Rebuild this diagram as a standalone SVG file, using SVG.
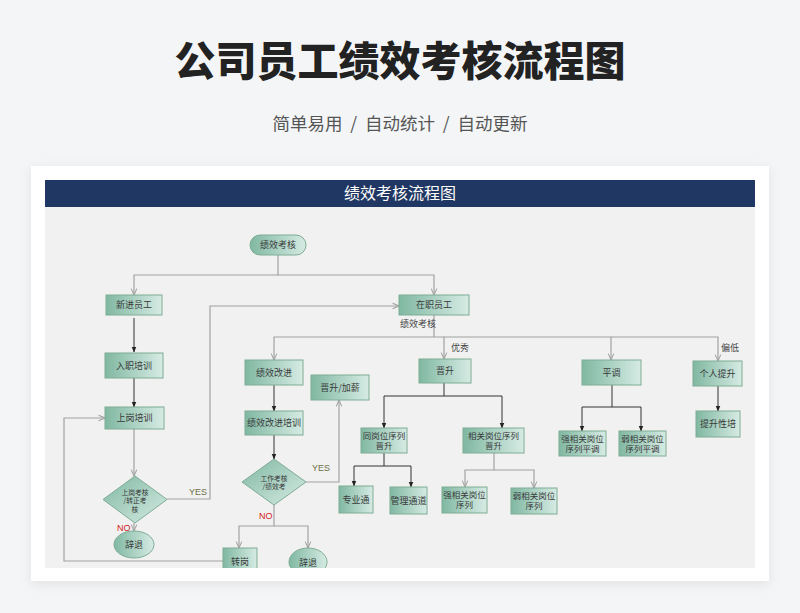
<svg xmlns="http://www.w3.org/2000/svg" width="800" height="613" viewBox="0 0 800 613">
<style>
.n{stroke:#7eac94;stroke-width:1;fill:url(#g)}
.d{stroke:#7eac94;stroke-width:1;fill:url(#gd)}
.t{font-family:"Noto Sans CJK SC","Noto Sans",sans-serif;font-size:9px;fill:#3a3a3a;text-anchor:middle}
.t2{font-family:"Noto Sans CJK SC","Noto Sans",sans-serif;font-size:8.5px;fill:#3a3a3a;text-anchor:middle}
.ts{font-family:"Noto Sans CJK SC","Noto Sans",sans-serif;font-size:6.8px;fill:#3a3a3a;text-anchor:middle}
.lb{font-family:"Noto Sans CJK SC","Noto Sans",sans-serif;font-size:9px;fill:#444}
.yes{font-family:"Liberation Sans","Noto Sans",sans-serif;font-size:9px;fill:#6f6f45}
.no{font-family:"Liberation Sans","Noto Sans",sans-serif;font-size:9px;fill:#d42020}
.cg{fill:none;stroke:#a2a2a2;stroke-width:1.2;marker-end:url(#ag)}
.cb{fill:none;stroke:#333;stroke-width:1;marker-end:url(#ab)}
.cl{fill:none;stroke:#a2a2a2;stroke-width:1.2}
</style>
<defs>
<linearGradient id="g" x1="0" y1="0" x2="1" y2="0">
<stop offset="0" stop-color="#80b8a2"/>
<stop offset="1" stop-color="#d6ebe4"/>
</linearGradient>
<linearGradient id="gd" x1="0" y1="0" x2="1" y2="1">
<stop offset="0" stop-color="#80b8a2"/>
<stop offset="1" stop-color="#d6ebe4"/>
</linearGradient>
<marker id="ag" viewBox="0 0 10 10" refX="9" refY="5" markerWidth="8" markerHeight="8" orient="auto" markerUnits="userSpaceOnUse">
<path d="M1,1.5 L9,5 L1,8.5" fill="none" stroke="#a2a2a2" stroke-width="1.3"/>
</marker>
<marker id="ab" viewBox="0 0 10 10" refX="9" refY="5" markerWidth="6" markerHeight="6" orient="auto" markerUnits="userSpaceOnUse">
<path d="M0,1 L10,5 L0,9 z" fill="#222"/>
</marker>
<filter id="sh" x="-10%" y="-10%" width="120%" height="125%">
<feDropShadow dx="0" dy="3" stdDeviation="6" flood-color="#000" flood-opacity="0.08"/>
</filter>
<clipPath id="clip"><rect x="45" y="207" width="710" height="361"/></clipPath>
</defs>

<rect x="0" y="0" width="800" height="613" fill="#f4f5f7"/>
<text x="400" y="76" text-anchor="middle" font-family="'Noto Sans CJK SC','Noto Sans',sans-serif" font-size="41" font-weight="900" fill="#222">公司员工绩效考核流程图</text>
<text x="400" y="130" text-anchor="middle" font-family="'Noto Sans CJK SC','Noto Sans',sans-serif" font-size="17.5" fill="#555" xml:space="preserve">简单易用  /  自动统计  /  自动更新</text>

<rect x="31" y="166" width="738" height="415" fill="#fff" filter="url(#sh)"/>
<rect x="45" y="207" width="710" height="361" fill="#f1f1f1"/>
<rect x="45" y="180" width="710" height="27" fill="#1f3762"/>
<text x="400" y="199" text-anchor="middle" font-family="'Noto Sans CJK SC','Noto Sans',sans-serif" font-size="16" fill="#fff">绩效考核流程图</text>

<g clip-path="url(#clip)">
<g id="connectors">
<path class="cg" d="M278,255 V275 H134 V295"/>
<path class="cg" d="M278,275 H434 V295"/>
<path class="cb" d="M134,318 V352"/>
<path class="cb" d="M134,378 V407"/>
<path class="cg" d="M134,429 V476"/>
<path class="cg" d="M134,523 V531"/>
<path class="cg" d="M167,499 H210 V306 H399"/>
<path class="cg" d="M223,561 H64 V418 H105"/>
<path class="cl" d="M434,315 V337"/>
<path class="cg" d="M434,337 H274 V360"/>
<path class="cg" d="M434,337 H444 V359"/>
<path class="cg" d="M444,337 H611 V360"/>
<path class="cg" d="M611,337 H718 V361"/>
<path class="cb" d="M274,385 V411"/>
<path class="cb" d="M274,435 V459"/>
<path class="cg" d="M306,482 H339 V400"/>
<path class="cg" d="M274,505 V526 H239 V548"/>
<path class="cg" d="M274,526 H308 V548"/>
<path class="cb" d="M444,383 V396 H384 V428"/>
<path class="cb" d="M444,396 H502 V428"/>
<path class="cb" d="M384,453 V466 H354 V486"/>
<path class="cb" d="M384,466 H411 V487"/>
<path class="cg" d="M494,453 V470 H465 V487"/>
<path class="cg" d="M494,470 H534 V488"/>
<path class="cb" d="M612,385 V407 H582 V431"/>
<path class="cb" d="M612,407 H641 V431"/>
<path class="cb" d="M718,386 V411"/>
</g>

<text class="lb" x="418" y="327" text-anchor="middle">绩效考核</text>
<text class="lb" x="451" y="351">优秀</text>
<text class="lb" x="721" y="351">偏低</text>
<text class="yes" x="189" y="495">YES</text>
<text class="yes" x="312" y="471">YES</text>
<text class="no" x="117" y="531">NO</text>
<text class="no" x="259" y="519">NO</text>

<g id="n-start"><rect class="n" x="250" y="235" width="56" height="20" rx="10"/><text class="t" x="278" y="248">绩效考核</text></g>
<g id="n-new"><rect class="n" x="106" y="295" width="56" height="20"/><text class="t" x="134" y="308">新进员工</text></g>
<g id="n-induct"><rect class="n" x="105" y="353" width="58" height="25"/><text class="t" x="134" y="368.5">入职培训</text></g>
<g id="n-post"><rect class="n" x="105" y="407" width="59" height="22"/><text class="t" x="134.5" y="421">上岗培训</text></g>
<g id="n-dec1"><polygon class="d" points="135,476 167,499.5 135,523 103,499.5"/><text class="ts" x="135" y="494.5">上岗考核</text><text class="ts" x="135" y="503">/转正考</text><text class="ts" x="135" y="511.5">核</text></g>
<g id="n-quit1"><ellipse class="n" cx="134" cy="544.5" rx="20" ry="13.5"/><text class="t" x="134" y="548">辞退</text></g>
<g id="n-staff"><rect class="n" x="399" y="295" width="70" height="20"/><text class="t" x="434" y="308">在职员工</text></g>
<g id="n-improve"><rect class="n" x="245" y="360" width="58" height="25"/><text class="t" x="274" y="375.5">绩效改进</text></g>
<g id="n-raise"><rect class="n" x="311" y="375" width="58" height="25"/><text class="t" x="340" y="390.5">晋升/加薪</text></g>
<g id="n-improvetrain"><rect class="n" x="245" y="411" width="58" height="24"/><text class="t" x="274" y="426">绩效改进培训</text></g>
<g id="n-dec2"><polygon class="d" points="274,459 306,482 274,505 242,482"/><text class="ts" x="274" y="480.5">工作考核</text><text class="ts" x="274" y="489">/绩效考</text></g>
<g id="n-transfer"><rect class="n" x="223" y="548" width="34" height="28"/><text class="t" x="240" y="565">转岗</text></g>
<g id="n-quit2"><ellipse class="n" cx="308" cy="562" rx="19" ry="14"/><text class="t" x="308" y="566">辞退</text></g>
<g id="n-promote"><rect class="n" x="419" y="359" width="52" height="24"/><text class="t" x="445" y="374">晋升</text></g>
<g id="n-same"><rect class="n" x="361" y="428" width="46" height="25"/><text class="t2" x="384" y="438.5">同岗位序列</text><text class="t2" x="384" y="449">晋升</text></g>
<g id="n-related"><rect class="n" x="463" y="428" width="61" height="25"/><text class="t2" x="493.5" y="438.5">相关岗位序列</text><text class="t2" x="493.5" y="449">晋升</text></g>
<g id="n-pro"><rect class="n" x="339" y="486" width="34" height="27"/><text class="t" x="356" y="502.5">专业通</text></g>
<g id="n-mgmt"><rect class="n" x="390" y="487" width="37" height="27"/><text class="t" x="408.5" y="503.5">管理通道</text></g>
<g id="n-strong"><rect class="n" x="442" y="487" width="45" height="26"/><text class="t2" x="464.5" y="497.5">强相关岗位</text><text class="t2" x="464.5" y="508">序列</text></g>
<g id="n-weak"><rect class="n" x="511" y="488" width="46" height="26"/><text class="t2" x="534" y="498.5">弱相关岗位</text><text class="t2" x="534" y="509">序列</text></g>
<g id="n-lateral"><rect class="n" x="582" y="360" width="59" height="25"/><text class="t" x="611.5" y="375.5">平调</text></g>
<g id="n-strong2"><rect class="n" x="559" y="431" width="47" height="25"/><text class="t2" x="582.5" y="441.5">强相关岗位</text><text class="t2" x="582.5" y="452">序列平调</text></g>
<g id="n-weak2"><rect class="n" x="619" y="431" width="47" height="25"/><text class="t2" x="642.5" y="441.5">弱相关岗位</text><text class="t2" x="642.5" y="452">序列平调</text></g>
<g id="n-self"><rect class="n" x="693" y="361" width="49" height="25"/><text class="t" x="717.5" y="376.5">个人提升</text></g>
<g id="n-selftrain"><rect class="n" x="696" y="411" width="44" height="26"/><text class="t" x="718" y="427">提升性培</text></g>
</g>
</svg>
